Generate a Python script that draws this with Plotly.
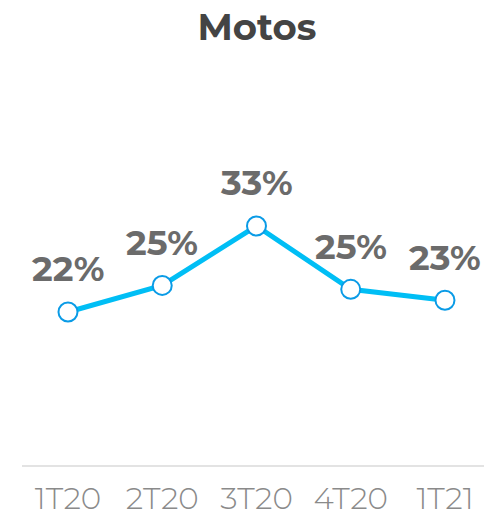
import plotly.graph_objects as go

categories = ["1T20", "2T20", "3T20", "4T20", "1T21"]
values = [22.0, 25.4, 33.0, 24.9, 23.5]
labels = ["22%", "25%", "33%", "25%", "23%"]
title_text = "Motos"

FONT = "Montserrat, 'Open Sans', 'Noto Sans', sans-serif"

fig = go.Figure()
fig.add_trace(go.Scatter(
    x=list(range(len(categories))), y=values, mode="lines+markers",
    line=dict(color="#00BEF5", width=5),
    marker=dict(size=19, color="white", line=dict(color="#0A9BE6", width=2)),
    hoverinfo="skip",
))
for i, (v, lab) in enumerate(zip(values, labels)):
    fig.add_annotation(x=i, y=v, text="<b>" + lab + "</b>", showarrow=False,
                       yanchor="middle", yshift=43,
                       font=dict(family=FONT, size=35, color="#6B6B6B"))

fig.update_layout(
    width=484, height=522,
    margin=dict(l=22, r=0, t=60, b=57),
    paper_bgcolor="white", plot_bgcolor="white",
    showlegend=False,
    title=dict(text="<b>" + title_text + "</b>", x=0.531, xanchor="center", y=0.949, yanchor="middle",
               font=dict(family=FONT, size=37, color="#444444")),
    xaxis=dict(range=[-0.488, 4.414], tickmode="array", tickvals=list(range(len(categories))),
               ticktext=categories, showgrid=False, zeroline=False,
               showline=True, linecolor="#E3E3E3", linewidth=2,
               ticks="outside", ticklen=5, tickcolor="rgba(0,0,0,0)",
               tickfont=dict(family=FONT, size=31, color="#8A8A8A", weight=300)),
    yaxis=dict(range=[2.43, 54.23], visible=False, showgrid=False, zeroline=False),
)
fig.write_html("out.html", config={"displayModeBar": False},
               post_script="document.body.style.margin='0';document.body.style.overflow='hidden';")
